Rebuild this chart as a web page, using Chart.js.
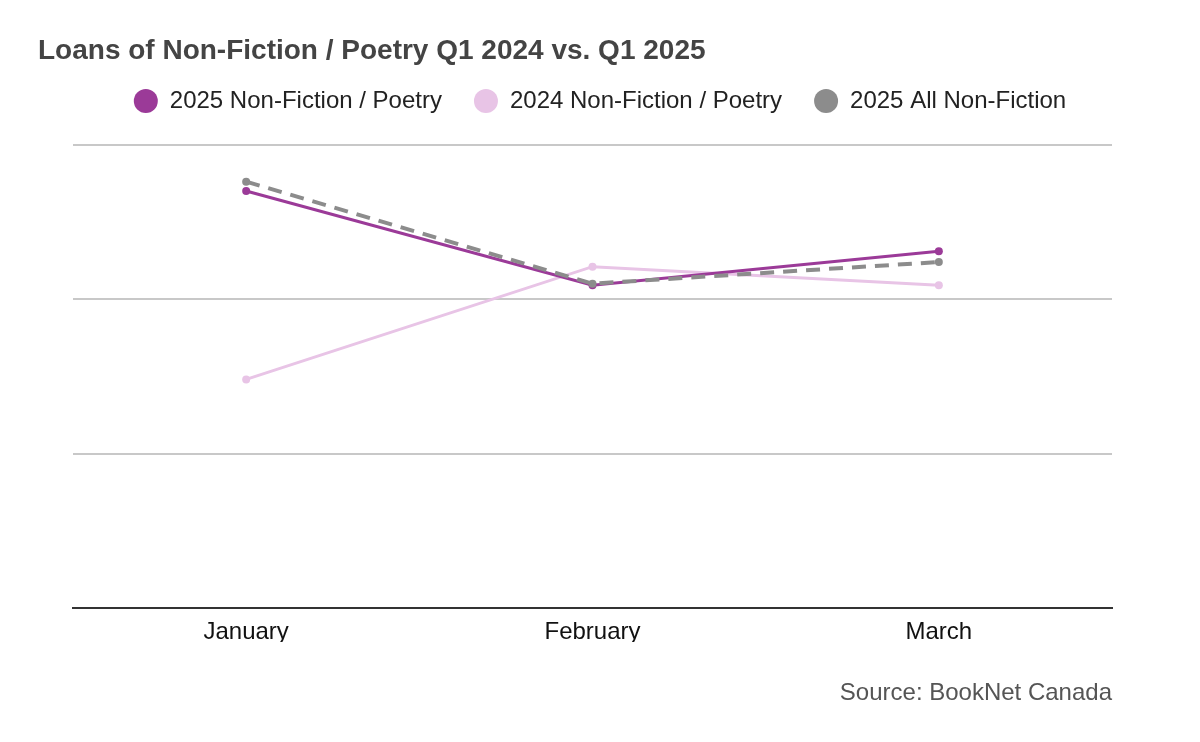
<!DOCTYPE html>
<html>
<head>
<meta charset="utf-8">
<script src="https://cdn.jsdelivr.net/npm/chart.js@4"></script>
<style>
  html, body { margin: 0; padding: 0; background: #fff; }
  #wrap { width: 1200px; height: 742px; }
</style>
</head>
<body>
<div id="wrap"><canvas id="loans-chart"></canvas></div>
<script>
const months = ['January', 'February', 'March'];

// no y labels in the original so units are relative
const nonFiction2025 = [2.70, 2.09, 2.31];
const nonFiction2024 = [1.48, 2.21, 2.09];
const allNonFiction2025 = [2.76, 2.10, 2.24];

const chartTitle = 'Loans of Non-Fiction / Poetry Q1 2024 vs. Q1 2025';
const sourceText = 'Source: BookNet Canada';

const FONT = '"Liberation Sans", Arial, sans-serif';

// title top-left and source bottom-right
const textPlugin = {
    id: 'textPlugin',
    afterDraw(chart) {
        const ctx = chart.ctx;
        ctx.save();
        ctx.textBaseline = 'alphabetic';
        ctx.fillStyle = '#444444';
        ctx.font = 'bold 28px ' + FONT;
        ctx.textAlign = 'left';
        ctx.fillText(chartTitle, 38, 59);

        ctx.fillStyle = '#555555';
        ctx.font = '24px ' + FONT;
        ctx.textAlign = 'right';
        ctx.fillText(sourceText, chart.chartArea.right, 700);
        ctx.restore();
    }
};

new Chart(document.getElementById('loans-chart'), {
    type: 'line',
    data: {
        labels: months,
        datasets: [
            {
                label: '2025 Non-Fiction / Poetry',
                data: nonFiction2025,
                borderColor: '#9b3a98',
                backgroundColor: '#9b3a98',
                borderWidth: 3,
                pointRadius: 4,
                pointBorderWidth: 0,
                order: 1
            },
            {
                label: '2024 Non-Fiction / Poetry',
                data: nonFiction2024,
                borderColor: '#e8c4e6',
                backgroundColor: '#e8c4e6',
                borderWidth: 3,
                pointRadius: 4,
                pointBorderWidth: 0,
                order: 2
            },
            {
                label: '2025 All Non-Fiction',
                data: allNonFiction2025,
                borderColor: '#8c8c8c',
                backgroundColor: '#8c8c8c',
                borderWidth: 4,
                borderDash: [14, 9],
                pointRadius: 4,
                pointBorderWidth: 0,
                order: 0
            }
        ]
    },
    options: {
        responsive: true,
        maintainAspectRatio: false,
        animation: false,
        layout: {
            padding: { top: 57, bottom: 100, left: 0, right: 0 }
        },
        plugins: {
            title: { display: false },
            tooltip: { enabled: false },
            legend: {
                position: 'top',
                align: 'center',
                labels: {
                    usePointStyle: true,
                    pointStyle: 'circle',
                    pointStyleWidth: 24,
                    boxHeight: 17,
                    padding: 32,
                    color: '#222222',
                    font: { family: FONT, size: 24 },
                    sort: (a, b) => a.datasetIndex - b.datasetIndex,
                    generateLabels: function(chart) {
                        const items = Chart.defaults.plugins.legend.labels.generateLabels(chart);
                        items.forEach(item => {
                            item.lineDash = [];
                            item.lineWidth = 0;
                            item.strokeStyle = item.fillStyle;
                        });
                        return items;
                    }
                }
            }
        },
        scales: {
            x: {
                offset: true,
                grid: { display: false, drawTicks: false },
                border: { display: true, color: '#333333', width: 2 },
                ticks: {
                    color: '#111111',
                    padding: 10,
                    font: { family: FONT, size: 24 }
                },
                afterFit: function(scale) { scale.height = 34; }
            },
            y: {
                min: 0,
                max: 3.14,
                grid: { color: '#c8c8c8', lineWidth: 2, drawTicks: false },
                border: { display: false },
                ticks: { display: false, stepSize: 1, includeBounds: false },
                afterFit: function(scale) { scale.width = 73; }
            },
            y2: {
                position: 'right',
                grid: { display: false, drawTicks: false },
                border: { display: false },
                ticks: { display: false },
                afterFit: function(scale) { scale.width = 88; }
            }
        }
    },
    plugins: [textPlugin]
});
</script>
</body>
</html>
